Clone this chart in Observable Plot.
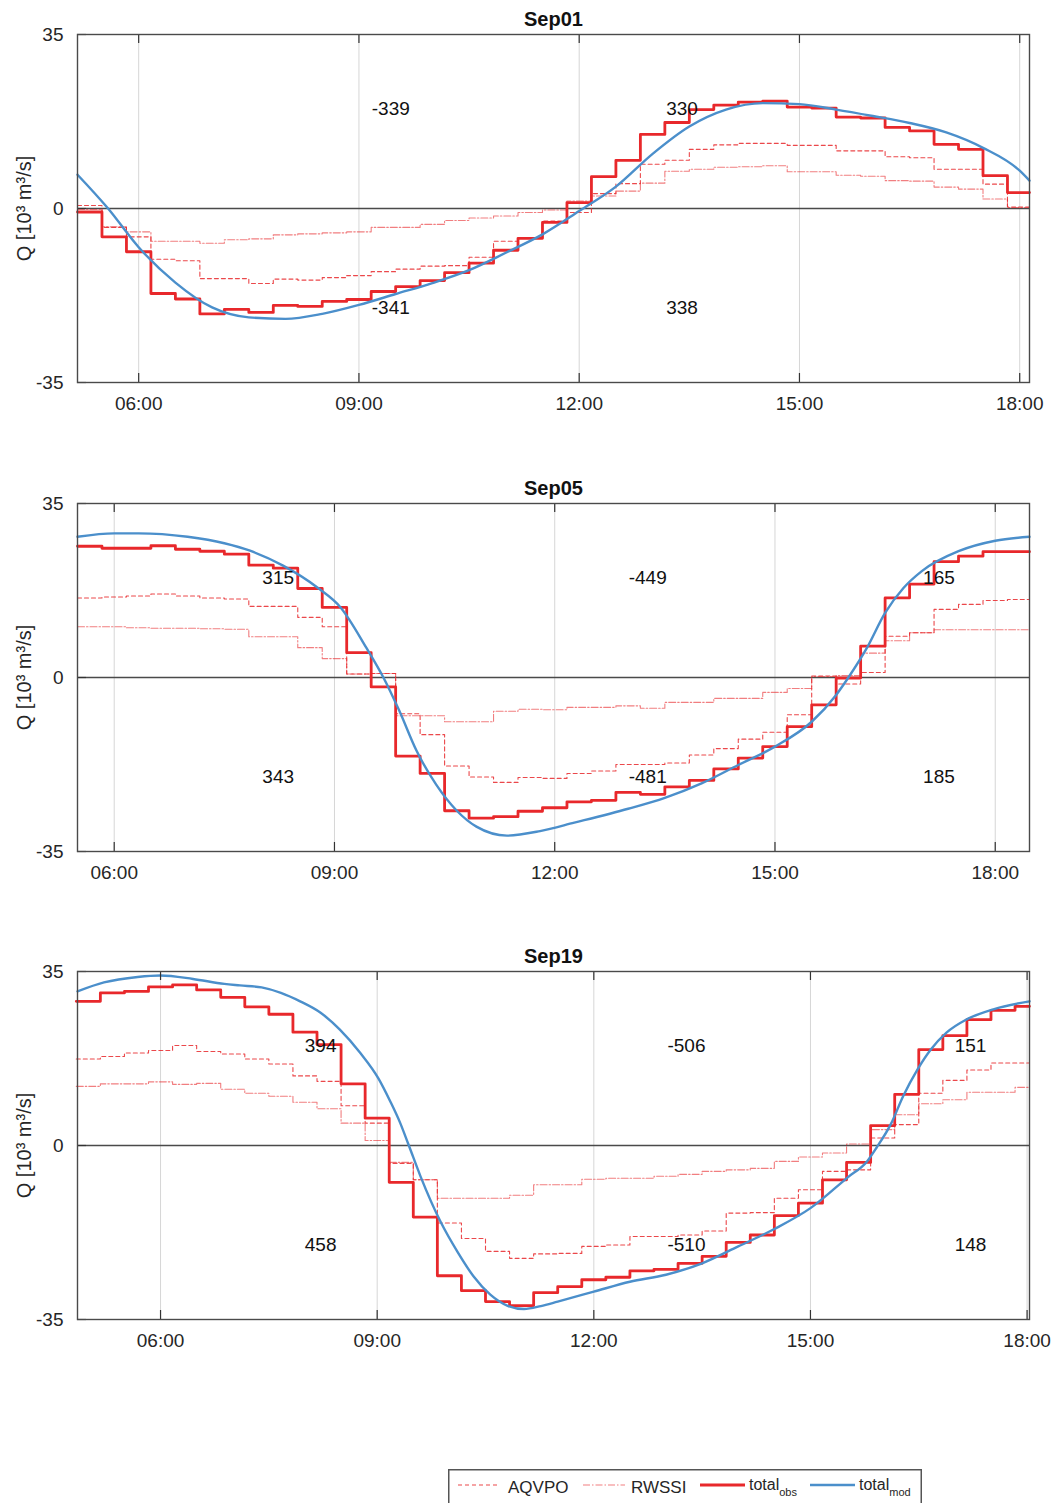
<!DOCTYPE html>
<html>
<head>
<meta charset="utf-8">
<script src="https://cdn.jsdelivr.net/npm/d3@7"></script>
<script src="https://cdn.jsdelivr.net/npm/@observablehq/plot@0.6"></script>
<style>
  html, body { margin: 0; padding: 0; background: #fff; overflow: hidden; }
  body { font-family: "Liberation Sans", Arial, Helvetica, sans-serif; }
  #wrap { position: relative; width: 1057px; height: 1503px; }
  .panel { position: absolute; left: 0; }
  #legend { position: absolute; left: 448px; top: 1469px; }
</style>
</head>
<body>
<div id="wrap"></div>
<script>
// ---------------- DATA ----------------
const panelTitles = ["Sep01", "Sep05", "Sep19"];
const xStart = ["05:10", "05:30", "04:51"];
const xEnd = ["18:08", "18:28", "18:02"];
const xTickLabels = ["06:00", "09:00", "12:00", "15:00", "18:00"];
const yTicks = [-35, 0, 35];
const yTickLabels = ["-35", "0", "35"];
const yLabel = "Q [10³ m³/s]";
const seriesNames = ["AQVPO", "RWSSI", "total", "total"];
const seriesSubs = ["", "", "obs", "mod"];
const labelLevels = [20, -20];

// Sep01
const sep01Times = ["05:10","05:30","05:50","06:10","06:30","06:50","07:10","07:30","07:50","08:10","08:30","08:50","09:10","09:30","09:50","10:10","10:30","10:50","11:10","11:30","11:50","12:10","12:30","12:50","13:10","13:30","13:50","14:10","14:30","14:50","15:10","15:30","15:50","16:10","16:30","16:50","17:10","17:30","17:50"];
const sep01Obs = [-0.7,-5.7,-8.7,-17.1,-18.2,-21.2,-20.3,-20.9,-19.5,-19.7,-18.7,-18.3,-16.7,-15.7,-14.5,-12.9,-11.0,-8.4,-6.0,-2.8,1.2,6.4,9.7,14.9,17.3,19.9,20.8,21.4,21.6,20.4,20.2,18.4,18.2,16.3,15.6,12.9,11.9,6.6,3.2];
const sep01Aqvpo = [0.6,-3.8,-5.7,-10.2,-10.5,-14.1,-14.1,-15.1,-14.2,-14.4,-13.9,-13.5,-12.7,-12.2,-11.6,-11.5,-9.8,-6.6,-6.0,-2.5,-0.8,3.0,5.0,8.9,9.7,11.9,12.8,13.1,13.1,12.7,12.7,11.6,11.6,10.4,10.2,7.9,7.9,4.9,0.3];
const sep01Rwssi = [-0.2,-3.7,-4.7,-6.6,-6.6,-7.0,-6.3,-6.1,-5.3,-5.1,-4.9,-4.7,-3.8,-3.8,-3.2,-2.4,-1.9,-1.5,-0.8,-0.3,1.5,2.5,3.5,5.1,7.5,7.9,8.3,8.4,8.6,7.4,7.4,6.7,6.5,5.6,5.5,4.3,3.9,1.9,0.2];
const sep01ModTimes = ["05:10","05:35","06:00","06:30","07:00","07:30","08:00","08:30","09:00","09:30","10:00","10:30","11:00","11:30","12:00","12:30","13:00","13:30","14:00","14:30","15:00","15:30","16:00","16:30","17:00","17:30","18:00","18:08"];
const sep01Mod = [6.8,0.0,-7.8,-14.9,-19.9,-21.9,-22.2,-21.2,-19.4,-17.2,-15.0,-12.4,-8.9,-5.2,-0.5,4.4,11.0,16.5,19.9,21.2,21.0,19.9,18.6,17.2,15.3,12.2,7.6,5.6];
const sep01LabelTimes = ["09:26", "13:24"];
const sep01LabelsTop = ["-339", "330"];
const sep01LabelsBottom = ["-341", "338"];

// Sep05
const sep05Times = ["05:30","05:50","06:10","06:30","06:50","07:10","07:30","07:50","08:10","08:30","08:50","09:10","09:30","09:50","10:10","10:30","10:50","11:10","11:30","11:50","12:10","12:30","12:50","13:10","13:30","13:50","14:10","14:30","14:50","15:10","15:30","15:50","16:10","16:30","16:50","17:10","17:30","17:50","18:10"];
const sep05Obs = [26.4,26.0,26.0,26.5,25.8,25.4,24.8,22.6,22.0,17.9,14.1,5.0,-1.9,-15.8,-19.3,-26.8,-28.3,-28.0,-26.9,-26.2,-25.0,-24.7,-23.1,-23.5,-22.0,-20.7,-18.4,-16.2,-13.9,-9.9,-5.5,-0.1,6.3,16.0,18.8,23.3,24.4,25.3,25.3];
const sep05Aqvpo = [16.0,16.2,16.4,16.8,16.4,16.0,15.8,14.3,14.3,12.1,10.2,0.7,0.8,-7.3,-11.5,-17.8,-20.0,-21.1,-20.1,-20.3,-19.3,-18.8,-17.5,-17.5,-17.2,-15.6,-14.3,-12.4,-11.0,-7.5,0.3,-1.3,1.0,8.3,9.0,13.7,14.7,15.5,15.7];
const sep05Rwssi = [10.2,10.2,10.0,9.9,9.9,9.8,9.7,8.2,8.2,6.0,3.8,0.7,0.8,-7.7,-7.7,-8.9,-8.9,-6.8,-6.4,-6.5,-6.0,-6.0,-5.7,-6.2,-5.0,-5.0,-4.2,-4.2,-3.0,-2.2,0.2,0.4,4.9,7.4,9.0,9.6,9.6,9.6,9.6];
const sep05ModTimes = ["05:30","06:00","06:20","07:00","07:30","07:51","08:18","08:46","09:05","09:26","09:40","09:53","10:07","10:23","10:40","10:56","11:21","11:48","12:16","13:00","13:30","14:00","14:30","15:00","15:30","15:50","16:00","16:15","16:30","16:45","17:00","17:30","18:00","18:28"];
const sep05Mod = [28.3,29.0,29.0,28.3,27.0,25.5,22.5,18.1,14.1,6.0,0.0,-6.7,-14.7,-21.5,-26.8,-30.0,-31.8,-30.9,-29.2,-26.4,-24.2,-21.3,-17.6,-13.9,-8.9,-3.5,0.0,5.9,13.0,18.0,21.4,25.4,27.5,28.3];
const sep05LabelTimes = ["08:14", "13:16", "17:14"];
const sep05LabelsTop = ["315", "-449", "165"];
const sep05LabelsBottom = ["343", "-481", "185"];

// Sep19
const sep19Times = ["04:50","05:10","05:30","05:50","06:10","06:30","06:50","07:10","07:30","07:50","08:10","08:30","08:50","09:10","09:30","09:50","10:10","10:30","10:50","11:10","11:30","11:50","12:10","12:30","12:50","13:10","13:30","13:50","14:10","14:30","14:50","15:10","15:30","15:50","16:10","16:30","16:50","17:10","17:30","17:50"];
const sep19Obs = [29.0,30.7,31.0,31.9,32.3,31.3,29.8,27.9,26.4,22.8,20.3,12.4,5.5,-7.4,-14.4,-26.2,-29.2,-31.4,-32.2,-29.6,-28.4,-27.0,-26.5,-25.2,-24.9,-23.7,-22.3,-19.5,-18.0,-14.1,-11.6,-6.9,-3.4,4.0,10.3,19.3,22.1,25.3,27.2,28.0];
const sep19Aqvpo = [17.4,17.9,18.6,19.1,20.1,18.9,18.4,17.4,16.4,14.0,12.9,8.0,4.5,-3.6,-6.9,-15.6,-18.7,-21.3,-22.7,-21.8,-21.7,-20.3,-20.0,-18.3,-18.3,-18.0,-17.2,-13.6,-13.5,-10.6,-8.9,-5.2,-4.9,1.5,4.2,10.5,13.1,15.2,16.6,16.6];
const sep19Rwssi = [11.9,12.4,12.4,12.8,12.3,12.5,11.3,10.5,9.9,8.7,7.4,4.5,1.0,-3.4,-6.9,-10.6,-10.6,-10.6,-10.0,-7.9,-7.9,-6.8,-6.6,-6.6,-6.2,-5.8,-5.2,-4.9,-4.6,-3.2,-2.3,-1.5,0.3,3.2,6.2,8.4,9.2,10.7,10.7,11.7];
const sep19ModTimes = ["04:51","05:13","05:41","06:00","06:27","06:53","07:06","07:24","07:40","07:56","08:13","08:29","08:46","09:01","09:11","09:19","09:26","09:36","09:53","10:07","10:20","10:34","10:48","11:02","11:16","11:30","12:00","12:30","13:00","13:30","14:00","14:30","15:00","15:31","15:47","15:55","16:07","16:17","16:29","16:40","16:53","17:10","17:32","18:02"];
const sep19Mod = [31.0,32.8,33.9,34.2,33.5,32.5,32.2,31.8,30.7,29.0,26.7,23.3,18.6,13.5,8.8,4.6,0.2,-6.2,-15.5,-21.5,-26.3,-30.0,-32.2,-32.9,-32.3,-31.4,-29.4,-27.4,-26.0,-23.7,-20.3,-16.8,-12.6,-6.4,-3.2,-0.4,4.4,9.9,15.3,19.3,22.7,25.4,27.4,29.0];
const sep19LabelTimes = ["08:13", "13:17", "17:13"];
const sep19LabelsTop = ["394", "-506", "151"];
const sep19LabelsBottom = ["458", "-510", "148"];

// ---------------- DRAWING ----------------
const RED = "#e8282b";
const BLUE = "#4b8fcb";
const FONT = '"Liberation Sans", Arial, Helvetica, sans-serif';

function hrs(s) { const [h, m] = s.split(":").map(Number); return h + m / 60; }

const panels = [
  {times: sep01Times, obs: sep01Obs, aq: sep01Aqvpo, rw: sep01Rwssi, mt: sep01ModTimes, mod: sep01Mod, lt: sep01LabelTimes, top: sep01LabelsTop, bot: sep01LabelsBottom},
  {times: sep05Times, obs: sep05Obs, aq: sep05Aqvpo, rw: sep05Rwssi, mt: sep05ModTimes, mod: sep05Mod, lt: sep05LabelTimes, top: sep05LabelsTop, bot: sep05LabelsBottom},
  {times: sep19Times, obs: sep19Obs, aq: sep19Aqvpo, rw: sep19Rwssi, mt: sep19ModTimes, mod: sep19Mod, lt: sep19LabelTimes, top: sep19LabelsTop, bot: sep19LabelsBottom}
];

const xTickVals = xTickLabels.map(hrs);
const PH = 469;
const panelTops = [0, 469, 937];
const wrap = document.getElementById("wrap");

panels.forEach((p, k) => {
  const x0 = hrs(xStart[k]), x1 = hrs(xEnd[k]);
  const step = (vals) => {
    const d = p.times.map((t, i) => ({x: hrs(t), y: vals[i]}));
    d.push({x: x1, y: vals[vals.length - 1]});
    return d;
  };
  const obs = step(p.obs), aq = step(p.aq), rw = step(p.rw);
  const mod = p.mt.map((t, i) => ({x: hrs(t), y: p.mod[i]}));
  const labels = [];
  p.lt.forEach((t, i) => {
    labels.push({x: hrs(t), y: labelLevels[0], t: p.top[i]});
    labels.push({x: hrs(t), y: labelLevels[1], t: p.bot[i]});
  });
  const ticks = xTickVals.filter(v => v >= x0 && v <= x1);

  const chart = Plot.plot({
    width: 1057,
    height: PH,
    marginLeft: 77,
    marginRight: 28,
    marginTop: 34,
    marginBottom: PH - 34 - 348,
    style: {fontFamily: FONT, fontSize: "19px", color: "#262626", background: "transparent", overflow: "visible"},
    x: {type: "linear", domain: [x0, x1]},
    y: {type: "linear", domain: [-35, 35]},
    marks: [
      Plot.ruleX(ticks, {x: d => d, stroke: "#d6d6d6", strokeWidth: 1}),
      Plot.ruleY([0], {stroke: "#4a4a4a", strokeWidth: 1.3}),
      Plot.line(aq, {x: "x", y: "y", curve: "step-after", stroke: RED, strokeWidth: 1.1, strokeDasharray: "4,3", strokeOpacity: 0.85}),
      Plot.line(rw, {x: "x", y: "y", curve: "step-after", stroke: RED, strokeWidth: 1.1, strokeDasharray: "7,2,1.5,2", strokeOpacity: 0.6}),
      Plot.line(obs, {x: "x", y: "y", curve: "step-after", stroke: RED, strokeWidth: 2.8}),
      Plot.line(mod, {x: "x", y: "y", curve: "monotone-x", stroke: BLUE, strokeWidth: 2.4}),
      Plot.text(labels, {x: "x", y: "y", text: "t", fontSize: 19, fill: "#111"}),
      Plot.ruleX(ticks, {x: d => d, insetBottom: 339, stroke: "#333", strokeWidth: 1.2}),
      Plot.ruleX(ticks, {x: d => d, insetTop: 339, stroke: "#333", strokeWidth: 1.2}),
      Plot.ruleY(yTicks, {y: d => d, insetRight: 943, stroke: "#333", strokeWidth: 1.2}),
      Plot.frame({stroke: "#4a4a4a", strokeWidth: 1.4}),
      Plot.axisX(ticks, {tickSize: 0, tickPadding: 14, label: null, fontSize: 19,
        tickFormat: d => xTickLabels[xTickVals.indexOf(d)]}),
      Plot.axisY(yTicks, {tickSize: 0, tickPadding: 14, label: null, fontSize: 19,
        tickFormat: d => yTickLabels[yTicks.indexOf(d)]}),
      Plot.text([panelTitles[k]], {text: d => d, frameAnchor: "top", lineAnchor: "middle", dy: -15, fontWeight: "bold", fontSize: 20, fill: "#111"}),
      Plot.text([yLabel], {text: d => d, frameAnchor: "left", textAnchor: "middle", lineAnchor: "middle", dx: -53, rotate: -90, fontSize: 20, fill: "#262626"})
    ]
  });
  chart.classList.add("panel");
  chart.style.top = panelTops[k] + "px";
  wrap.appendChild(chart);
});

// ---------------- LEGEND ----------------
const ns = "http://www.w3.org/2000/svg";
const leg = document.createElementNS(ns, "svg");
leg.setAttribute("id", "legend");
leg.setAttribute("width", 474);
leg.setAttribute("height", 40);
leg.innerHTML = `
  <rect x="0.75" y="0.75" width="472.5" height="40" fill="#fff" stroke="#555" stroke-width="1.5"/>
  <line x1="10" x2="52" y1="16" y2="16" stroke="${RED}" stroke-width="1.2" stroke-dasharray="4,3" stroke-opacity="0.85"/>
  <text x="60" y="24" font-family='${FONT}' font-size="17" fill="#262626">${seriesNames[0]}</text>
  <line x1="135" x2="177" y1="16" y2="16" stroke="${RED}" stroke-width="1.2" stroke-dasharray="7,2,1.5,2" stroke-opacity="0.6"/>
  <text x="183" y="24" font-family='${FONT}' font-size="17" fill="#262626">${seriesNames[1]}</text>
  <line x1="252" x2="297" y1="16" y2="16" stroke="${RED}" stroke-width="2.8"/>
  <text x="301" y="21" font-family='${FONT}' font-size="16" fill="#262626">${seriesNames[2]}<tspan dy="6" font-size="11">${seriesSubs[2]}</tspan></text>
  <line x1="362" x2="407" y1="16" y2="16" stroke="${BLUE}" stroke-width="2.4"/>
  <text x="411" y="21" font-family='${FONT}' font-size="16" fill="#262626">${seriesNames[3]}<tspan dy="6" font-size="11">${seriesSubs[3]}</tspan></text>
`;
wrap.appendChild(leg);
</script>
</body>
</html>
